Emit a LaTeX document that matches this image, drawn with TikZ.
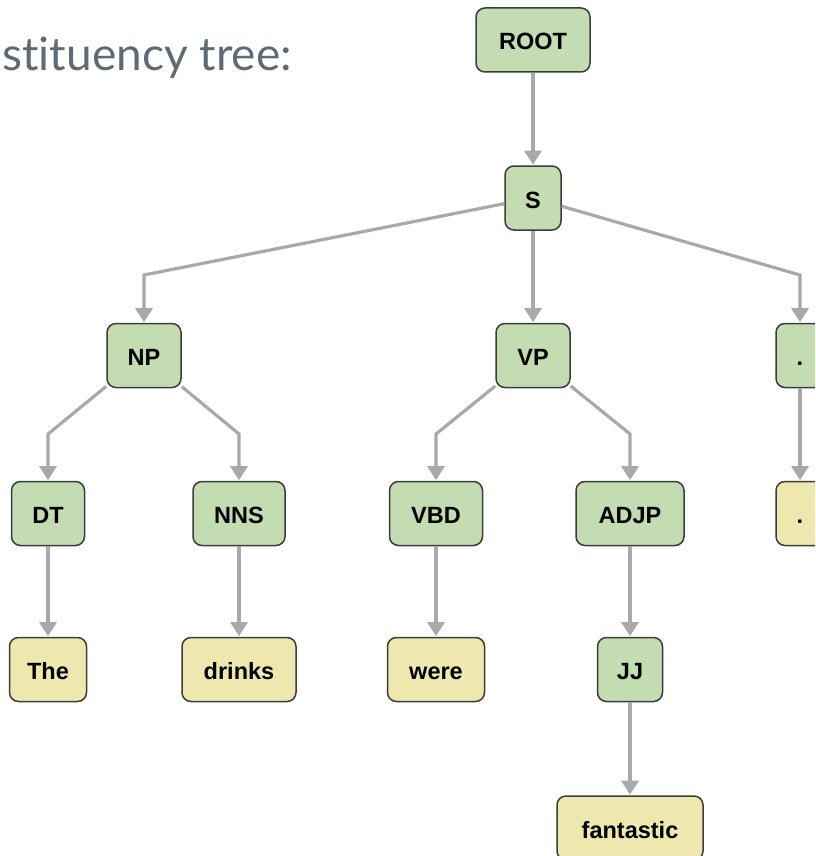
\documentclass[tikz,border=0pt]{standalone}
\usepackage{fontspec}
\setmainfont{Liberation Sans}
\newfontfamily\titlefont{Lato}[Ligatures=NoCommon]
\usetikzlibrary{arrows.meta}

\definecolor{phrasefill}{HTML}{C3DCB2}
\definecolor{wordfill}{HTML}{EEE8AE}
\definecolor{boxline}{HTML}{3C3C3C}
\definecolor{edgegray}{HTML}{A9A9A9}
\definecolor{titlegray}{HTML}{5E6B77}

\tikzset{
  tag/.style={draw=boxline, line width=1.5pt, rounded corners=9pt,
    minimum height=64pt, inner sep=0pt, text height=20pt, text depth=0pt,
    font=\bfseries\fontsize{23.5}{26}\selectfont, text=black},
  phrase/.style={tag, fill=phrasefill},
  word/.style={tag, fill=wordfill},
  edge/.style={draw=edgegray, line width=3.2pt,
    -{Triangle[width=17pt,length=14pt]}, shorten >=0.6pt},
}

\begin{document}
\begin{tikzpicture}[x=1pt, y=-1pt]
\useasboundingbox (0,0) rectangle (815,856);
\clip (0,0) rectangle (815,856);

% heading, cut off at the left edge
\node[anchor=base east, text=titlegray, inner sep=0pt,
  font=\titlefont\fontsize{46}{54}\selectfont] (title) at (292,71) {Constituency tree:};

% phrase-level tags
\node[phrase, minimum width=114pt] (root) at (533,40)    {ROOT};
\node[phrase, minimum width=56pt]  (s)    at (533,198)   {S};
\node[phrase, minimum width=74pt]  (np)   at (144,355.5) {NP};
\node[phrase, minimum width=74pt]  (vp)   at (533,355.5) {VP};
\node[phrase, minimum width=48pt]  (pu)   at (800,355.5) {.};
\node[phrase, minimum width=73pt]  (dt)   at (48,513.5)  {DT};
\node[phrase, minimum width=92pt]  (nns)  at (239,513.5) {NNS};
\node[phrase, minimum width=93pt]  (vbd)  at (436,513.5) {VBD};
\node[phrase, minimum width=108pt] (adjp) at (630,513.5) {ADJP};
\node[phrase, minimum width=65pt]  (jj)   at (630,669.5) {JJ};

% word-level leaves
\node[word, minimum width=48pt]  (wpu)   at (800,513.5) {.};
\node[word, minimum width=77pt]  (wthe)  at (48,669.5)  {The};
\node[word, minimum width=114pt] (wdrk)  at (239,669.5) {drinks};
\node[word, minimum width=97pt]  (wwere) at (436,669.5) {were};
\node[word, minimum width=146pt] (wfan)  at (630,828)   {fantastic};

% bend levels for the elbow connectors
\coordinate (k1) at (0,275);
\coordinate (k2) at (0,434);

% connectors
\draw[edge] (root) -- (s);
\draw[edge] (s) -- (np.north |- k1) -- (np);
\draw[edge] (s) -- (vp);
\draw[edge] (s) -- (pu.north |- k1) -- (pu);
\draw[edge] (np) -- (dt.north |- k2) -- (dt);
\draw[edge] (np) -- (nns.north |- k2) -- (nns);
\draw[edge] (vp) -- (vbd.north |- k2) -- (vbd);
\draw[edge] (vp) -- (adjp.north |- k2) -- (adjp);
\draw[edge] (pu) -- (wpu);
\draw[edge] (dt) -- (wthe);
\draw[edge] (nns) -- (wdrk);
\draw[edge] (vbd) -- (wwere);
\draw[edge] (adjp) -- (jj);
\draw[edge] (jj) -- (wfan);
\end{tikzpicture}
\end{document}
